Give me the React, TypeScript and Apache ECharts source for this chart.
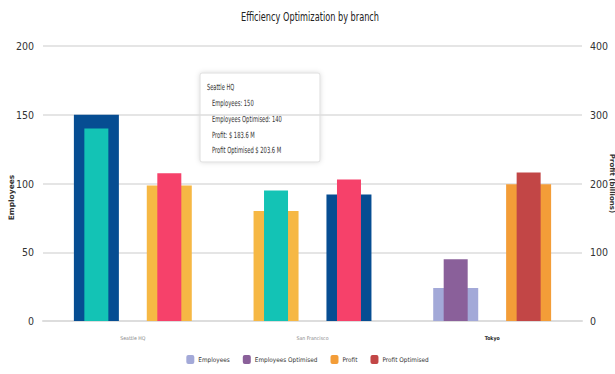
import React, { useEffect, useRef } from "react";
import * as echarts from "echarts";

const categories = ["Seattle HQ", "San Francisco", "Tokyo"];
const employees = [150, 80, 24];
const employeesOptimised = [140, 95, 45];
const profit = [197, 184, 199];
const profitOptimised = [215, 206, 216];
const leftTicks = [0, 50, 100, 150, 200];
const rightTicks = [0, 100, 200, 300, 400];
const chartTitle = "Efficiency Optimization by branch";
const tooltipLines = [
  "Employees: 150",
  "Employees Optimised: 140",
  "Profit: $ 183.6 M",
  "Profit Optimised $ 203.6 M",
];

const FONT = "'DejaVu Sans Condensed', 'Liberation Sans', Arial, sans-serif";
const FONT_WIDE = "'DejaVu Sans', 'Liberation Sans', Arial, sans-serif";

const C = {
  navy: "#064d92",
  teal: "#13c3b5",
  yellow: "#f6b844",
  pink: "#f6416a",
  lightPurple: "#a3a9d8",
  purple: "#8a609a",
  orange: "#f39d38",
  darkRed: "#c24646",
};

const employeesColors = [C.navy, C.yellow, C.lightPurple];
const employeesOptColors = [C.teal, C.teal, C.purple];
const profitColors = [C.yellow, C.navy, C.orange];
const profitOptColors = [C.pink, C.pink, C.darkRed];

function items(values: number[], colors: string[]) {
  return values.map((v, i) => ({ value: v, itemStyle: { color: colors[i] } }));
}

export default function App() {
  const ref = useRef<HTMLDivElement>(null);
  useEffect(() => {
    document.body.style.margin = "0";
    const chart = echarts.init(ref.current!, undefined, { renderer: "svg" });
    const catData = categories.map((c, i) =>
      i === 2
        ? { value: c, textStyle: { color: "#222", fontWeight: "bold" as const } }
        : c
    );
    chart.setOption({
      animation: false,
      backgroundColor: "#fff",
      legend: {
        bottom: 5,
        left: "center",
        itemWidth: 8,
        itemHeight: 9,
        itemGap: 13,
        data: ["Employees", "Employees Optimised", "Profit", "Profit Optimised"],
        textStyle: { fontFamily: FONT, fontSize: 6.4, color: "#333", padding: [0, 0, 0, -1] },
      },
      grid: { left: 43, right: 33, top: 46, bottom: 53, outerBoundsMode: "none" },
      xAxis: [
        {
          type: "category",
          data: catData,
          axisLine: { lineStyle: { color: "#ddd", width: 2 } },
          axisTick: { show: false },
          axisLabel: { fontFamily: FONT, fontSize: 5.2, color: "#888", margin: 14 },
        },
        {
          type: "category",
          data: categories,
          show: false,
        },
      ],
      yAxis: [
        {
          type: "value",
          min: 0,
          max: 200,
          interval: 50,
          name: "Employees",
          nameLocation: "middle",
          nameRotate: 90,
          nameGap: 28,
          nameMoveOverlap: false,
          nameTextStyle: {
            fontFamily: FONT_WIDE,
            fontSize: 7.5,
            fontWeight: "bold",
            color: "#333",
            padding: [0, 28, 0, 0],
          },
          axisLabel: { fontFamily: FONT, fontSize: 10.5, color: "#333", margin: 9 },
          axisLine: { show: false },
          axisTick: { show: false },
          splitLine: { lineStyle: { color: "#ddd", width: 1.5 } },
        },
        {
          type: "value",
          min: 0,
          max: 400,
          interval: 100,
          name: "Profit (billions)",
          nameLocation: "middle",
          nameRotate: -90,
          nameGap: 26,
          nameMoveOverlap: false,
          nameTextStyle: { fontFamily: FONT_WIDE, fontSize: 7, fontWeight: "bold", color: "#333" },
          axisLabel: { fontFamily: FONT, fontSize: 10.5, color: "#333", margin: 8 },
          axisLine: { show: false },
          axisTick: { show: false },
          splitLine: { show: false },
        },
      ],
      series: [
        {
          name: "Employees",
          type: "bar",
          xAxisIndex: 0,
          yAxisIndex: 0,
          barWidth: 45,
          barGap: "62%",
          color: C.lightPurple,
          data: items(employees, employeesColors),
          z: 2,
        },
        {
          name: "Profit",
          type: "bar",
          xAxisIndex: 0,
          yAxisIndex: 1,
          barWidth: 45,
          barGap: "62%",
          color: C.orange,
          data: items(profit, profitColors),
          z: 2,
        },
        {
          name: "Employees Optimised",
          type: "bar",
          xAxisIndex: 1,
          yAxisIndex: 0,
          barWidth: 24,
          barGap: "204%",
          color: C.purple,
          data: items(employeesOptimised, employeesOptColors),
          z: 3,
        },
        {
          name: "Profit Optimised",
          type: "bar",
          xAxisIndex: 1,
          yAxisIndex: 1,
          barWidth: 24,
          barGap: "204%",
          color: C.darkRed,
          data: items(profitOptimised, profitOptColors),
          z: 3,
        },
      ],
      graphic: [
        {
          type: "text",
          x: 310,
          y: 17,
          scaleX: 0.7,
          style: {
            text: chartTitle,
            font: `13px ${FONT}`,
            fill: "#222",
            align: "center",
            verticalAlign: "middle",
          },
        },
        {
          type: "group",
          x: 200,
          y: 73,
          z: 100,
          children: [
            {
              type: "rect",
              shape: { x: 0, y: 0, width: 120, height: 89, r: 2 },
              style: {
                fill: "#fff",
                stroke: "#ddd",
                lineWidth: 1,
                shadowBlur: 5,
                shadowColor: "rgba(0,0,0,0.14)",
              },
            },
            {
              type: "text",
              x: 7,
              y: 14,
              scaleX: 0.66,
              style: {
                text: categories[0],
                font: `8.5px ${FONT}`,
                fill: "#333",
                verticalAlign: "middle",
              },
            },
            ...tooltipLines.map((t, i) => ({
              type: "text",
              x: 12,
              y: 30.3 + i * 15.7,
              scaleX: 0.68,
              style: { text: t, font: `8.5px ${FONT}`, fill: "#333", verticalAlign: "middle" },
            })),
          ],
        },
      ],
    });
    return () => chart.dispose();
  }, []);
  return (
    <div
      ref={ref}
      style={{ position: "absolute", left: 0, top: 0, width: 615, height: 374 }}
    />
  );
}
